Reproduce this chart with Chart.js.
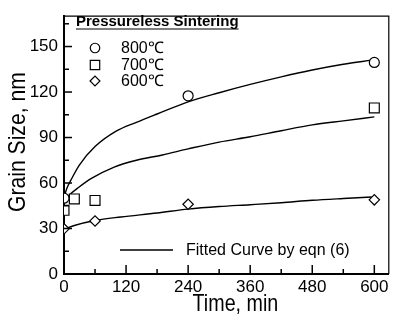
<!DOCTYPE html>
<html><head><meta charset="utf-8">
<script src="https://cdn.jsdelivr.net/npm/chart.js@4/dist/chart.umd.min.js"></script>
<style>html,body{margin:0;padding:0;background:#fff}#wrap{width:397px;height:320px}canvas{display:block}</style>
</head><body><div id="wrap"><canvas id="c"></canvas></div>
<script>
// ---- data ----
const xTickLabels = [0, 120, 240, 360, 480, 600];
const yTickLabels = [0, 30, 60, 90, 120, 150];
const seriesNames = ['800\u2103', '700\u2103', '600\u2103'];
const markers = ['circle', 'rect', 'rectRot'];

const t800 = [0, 240, 600];
const d800 = [50, 117.5, 139.5];
const t700 = [0, 20, 60, 600];
const d700 = [42, 49.5, 48.5, 109.5];
const t600 = [0, 60, 240, 600];
const d600 = [29.8, 35, 46, 48.9];

const fitT800 = [0, 5, 15, 30, 60, 100, 140, 180, 240, 300, 360, 420, 480, 540, 595];
const fitD800 = [50, 56, 63, 72, 84, 94, 100, 105.5, 113.5, 119.5, 125, 130, 134.5, 138.3, 141];
const fitT700 = [2, 10, 28, 53, 97, 140, 190, 240, 300, 360, 420, 480, 540, 600];
const fitD700 = [49, 52, 57, 63, 70.5, 75, 78.5, 82.5, 87, 90.5, 94.5, 98.3, 101, 103.6];
const fitT600 = [0, 20, 60, 110, 180, 240, 300, 360, 420, 480, 540, 595];
const fitD600 = [29.5, 32, 35.3, 37.6, 40.2, 42.8, 44.5, 45.7, 47, 48.6, 49.8, 50.8];

const legendTitle = 'Pressureless Sintering';
const fitLabel = 'Fitted Curve by eqn (6)';
const xTitle = 'Time, min';
const yTitle = 'Grain Size, nm';

const pts = (xs, ys) => xs.map((x, i) => ({x: x, y: ys[i]}));

const fitStyle = {type: 'line', borderColor: '#000', borderWidth: 1.4, pointRadius: 0, fill: false, tension: 0.4, cubicInterpolationMode: 'monotone', order: 2};
const mkStyle = (shape, r) => ({type: 'scatter', pointStyle: shape, pointRadius: r, pointHoverRadius: r, borderColor: '#000', backgroundColor: '#fff', pointBorderWidth: 1.2, borderWidth: 1.2, showLine: false, order: 1});
const markerR = [5, 7, 5.2];

const datasets = [
  Object.assign({label: 'fit800', data: pts(fitT800, fitD800)}, fitStyle),
  Object.assign({label: 'fit700', data: pts(fitT700, fitD700)}, fitStyle),
  Object.assign({label: 'fit600', data: pts(fitT600, fitD600)}, fitStyle),
  Object.assign({label: seriesNames[0], data: pts(t800, d800)}, mkStyle(markers[0], markerR[0])),
  Object.assign({label: seriesNames[1], data: pts(t700, d700)}, mkStyle(markers[1], markerR[1])),
  Object.assign({label: seriesNames[2], data: pts(t600, d600)}, mkStyle(markers[2], markerR[2]))
];

const SANS = "'Liberation Sans', Arial, Helvetica, sans-serif";

const decor = {
  id: 'decor',
  afterDraw(chart) {
    const {ctx, chartArea: a} = chart;
    const xs = chart.scales.x, ys = chart.scales.y;
    ctx.save();
    ctx.strokeStyle = '#000';
    // frame top & right
    ctx.lineWidth = 1.2;
    ctx.beginPath();
    ctx.moveTo(a.left, a.top); ctx.lineTo(a.right, a.top); ctx.lineTo(a.right, a.bottom);
    ctx.stroke();
    // inward ticks
    ctx.lineWidth = 1.5;
    xs.ticks.forEach(t => {
      const px = xs.getPixelForValue(t.value);
      const L = xTickLabels.includes(t.value) ? 9 : 5;
      ctx.beginPath(); ctx.moveTo(px, a.bottom); ctx.lineTo(px, a.bottom - L); ctx.stroke();
    });
    ys.ticks.forEach(t => {
      const py = ys.getPixelForValue(t.value);
      const L = yTickLabels.includes(t.value) ? 8 : 5;
      ctx.beginPath(); ctx.moveTo(a.left, py); ctx.lineTo(a.left + L, py); ctx.stroke();
    });
    // axis titles (condensed)
    ctx.fillStyle = '#000';
    ctx.font = '24px ' + SANS;
    ctx.textAlign = 'center';
    ctx.textBaseline = 'alphabetic';
    ctx.save();
    ctx.translate((a.left + a.right) / 2 + 9, 311);
    ctx.scale(0.82, 1);
    ctx.fillText(xTitle, 0, 0);
    ctx.restore();
    ctx.save();
    ctx.translate(25, (a.top + a.bottom) / 2 - 3);
    ctx.rotate(-Math.PI / 2);
    ctx.scale(0.88, 1);
    ctx.fillText(yTitle, 0, 0);
    ctx.restore();
    // legend title
    ctx.font = 'bold 15px ' + SANS;
    ctx.textAlign = 'left';
    const tx = 76, ty = 26;
    ctx.fillText(legendTitle, tx, ty);
    const w = ctx.measureText(legendTitle).width;
    ctx.lineWidth = 1.2;
    ctx.beginPath(); ctx.moveTo(tx, ty + 3); ctx.lineTo(tx + w, ty + 3); ctx.stroke();
    // legend entries
    const rows = [48, 65, 81];
    ctx.font = '16px ' + SANS;
    ctx.textBaseline = 'middle';
    rows.forEach((y, i) => {
      const opts = {pointStyle: markers[i], radius: markerR[i] * 0.95, borderWidth: 1.2, rotation: 0};
      ctx.fillStyle = '#fff'; ctx.strokeStyle = '#000'; ctx.lineWidth = 1.2;
      Chart.helpers.drawPoint(ctx, opts, 95, y);
      ctx.fillStyle = '#000';
      ctx.fillText(seriesNames[i], 121, y + 1);
    });
    // fitted curve legend
    ctx.lineWidth = 1.4;
    ctx.beginPath(); ctx.moveTo(120, 250); ctx.lineTo(173, 250); ctx.stroke();
    ctx.fillText(fitLabel, 186, 251);
    ctx.restore();
  }
};

new Chart(document.getElementById('c'), {
  type: 'scatter',
  data: {datasets: datasets},
  options: {
    responsive: true, maintainAspectRatio: false, animation: false,
    layout: {padding: {top: 8, right: 1, left: 0, bottom: 0}},
    plugins: {legend: {display: false}, tooltip: {enabled: false}},
    scales: {
      x: {
        type: 'linear', min: 0, max: 628,
        afterFit: s => { s.height = 46; },
        grid: {display: false, drawTicks: false},
        border: {display: true, color: '#000', width: 2},
        ticks: {stepSize: 60, includeBounds: false, color: '#000', padding: 3, maxRotation: 0, autoSkip: false,
          font: {family: SANS, size: 17},
          callback: v => xTickLabels.includes(v) ? String(v) : ''},
        title: {display: false}
      },
      y: {
        type: 'linear', min: 0, max: 170,
        afterFit: s => { s.width = 64; },
        grid: {display: false, drawTicks: false},
        border: {display: true, color: '#000', width: 2},
        ticks: {stepSize: 15, includeBounds: false, color: '#000', padding: 6, autoSkip: false,
          font: {family: SANS, size: 17},
          callback: v => yTickLabels.includes(v) ? String(v) : ''},
        title: {display: false}
      }
    }
  },
  plugins: [decor]
});
</script>
</body></html>
